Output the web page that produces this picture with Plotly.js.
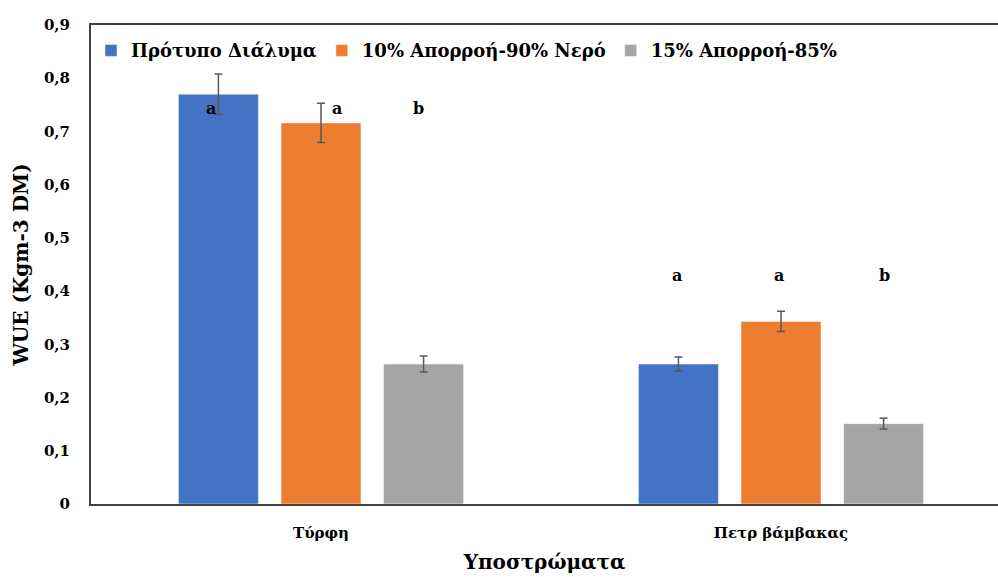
<!DOCTYPE html>
<html>
<head>
<meta charset="utf-8">
<script src="https://cdn.plot.ly/plotly-3.0.1.min.js"></script>
<style>
html,body{margin:0;padding:0;background:#fff;overflow:hidden;}
#chart{width:998px;height:577px;}
</style>
</head>
<body>
<div id="chart"></div>
<script>
const categories = ["Τύρφη", "Πετρ βάμβακας"];
const seriesNames = ["Πρότυπο Διάλυμα", "10% Απορροή-90% Νερό", "15% Απορροή-85%"];
const standardSolution = [0.77, 0.263];
const runoff10 = [0.716, 0.343];
const runoff15 = [0.263, 0.151];
const errStandard = [0.038, 0.013];
const errRunoff10 = [0.037, 0.019];
const errRunoff15 = [0.015, 0.010];
const letters = [["a", "a", "b"], ["a", "a", "b"]];
const letterY = [0.744, 0.43];
const letterOffset = [[-0.239, 0.035, 0.213], [-0.226, -0.004, 0.224]];

const colors = ["#4472C4", "#ED7D31", "#A5A5A5"];
const values = [standardSolution, runoff10, runoff15];
const errors = [errStandard, errRunoff10, errRunoff15];
const serif = "'DejaVu Serif', 'Liberation Serif', serif";

const traces = values.map((v, i) => ({
  type: "bar",
  name: seriesNames[i],
  x: categories,
  y: v,
  marker: {color: colors[i], line: {color: "rgba(255,255,255,0.5)", width: 1}},
  error_y: {type: "data", array: errors[i], visible: true, color: "#595959", thickness: 1.5, width: 4}
}));

const annotations = [];
categories.forEach((c, ci) => {
  letters[ci].forEach((t, li) => {
    annotations.push({
      xref: "x", yref: "y",
      x: ci + letterOffset[ci][li], y: letterY[ci],
      text: t, showarrow: false,
      font: {family: serif, size: 16, color: "#000", weight: "bold"}
    });
  });
});

const layout = {
  width: 998, height: 577,
  margin: {l: 91, r: 0, t: 25, b: 73},
  paper_bgcolor: "#fff", plot_bgcolor: "#fff",
  separators: ",.",
  font: {family: serif, color: "#000", size: 15, weight: "bold"},
  barmode: "group",
  bargap: 0.331,
  bargroupgap: 0.22,
  showlegend: true,
  legend: {
    orientation: "h", x: 0.0, y: 0.985, xanchor: "left", yanchor: "top",
    font: {family: serif, size: 18, color: "#000", weight: "bold"},
    itemwidth: 30, bgcolor: "rgba(0,0,0,0)", traceorder: "normal"
  },
  xaxis: {
    type: "category",
    range: [-0.5, 1.4717],
    showline: true, linecolor: "#404040", linewidth: 2, mirror: true,
    showgrid: false, zeroline: false, ticks: "",
    tickfont: {family: serif, size: 15, color: "#000", weight: "bold"},
    ticklabelstandoff: 14,
    title: {text: "Υποστρώματα", font: {family: serif, size: 20, color: "#000", weight: "bold"}, standoff: 14}
  },
  yaxis: {
    range: [0, 0.9], dtick: 0.1, tick0: 0,
    showline: true, linecolor: "#404040", linewidth: 2,
    showgrid: false, zeroline: false, ticks: "",
    tickfont: {family: serif, size: 15, color: "#000", weight: "bold"},
    ticklabelstandoff: 16,
    title: {text: "WUE (Kgm-3 DM)", font: {family: serif, size: 20, color: "#000", weight: "bold"}, standoff: 10}
  },
  annotations: annotations
};

Plotly.newPlot("chart", traces, layout, {displayModeBar: false, staticPlot: true});
</script>
</body>
</html>
